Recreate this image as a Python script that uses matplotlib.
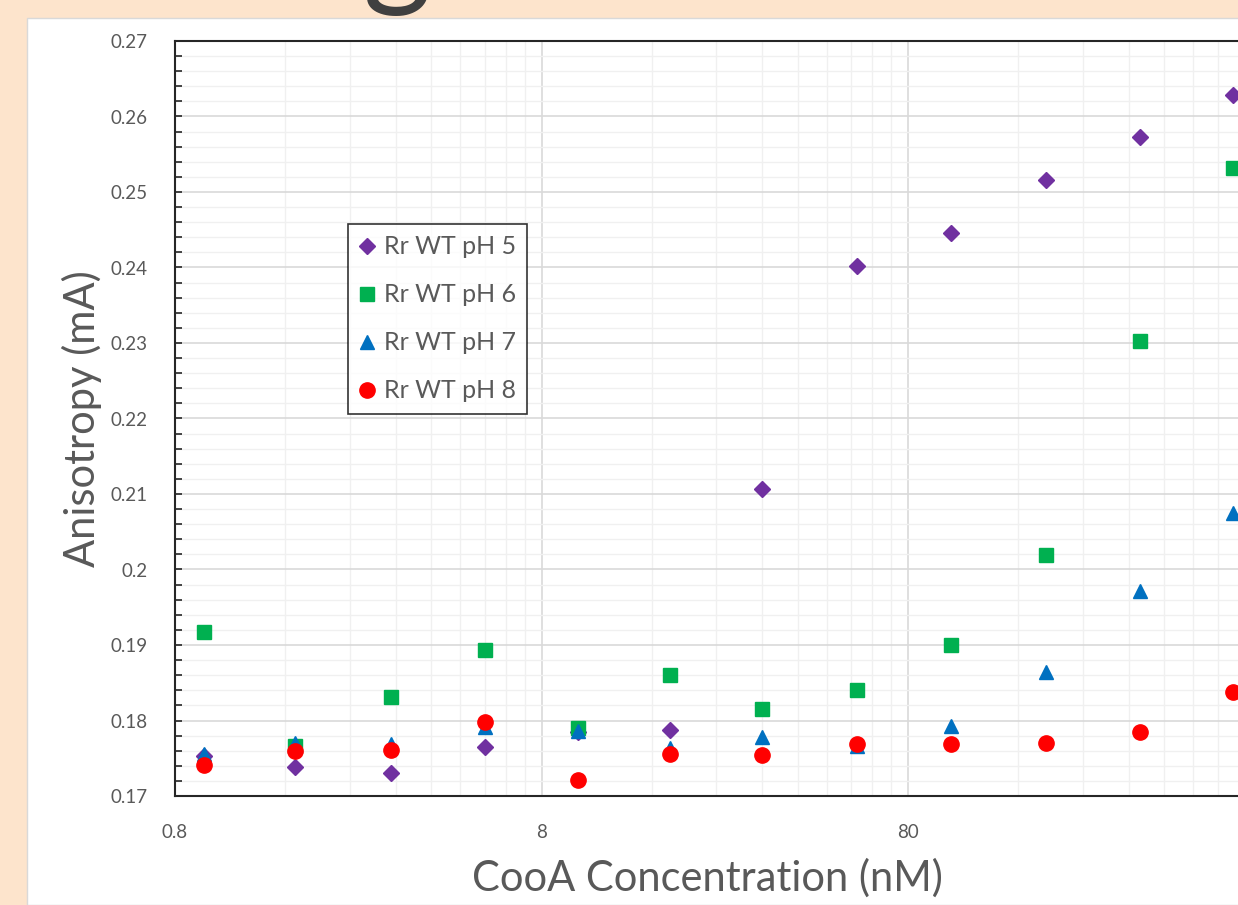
import matplotlib
matplotlib.use("Agg")
import matplotlib.pyplot as plt
from matplotlib.patches import Rectangle
from matplotlib.ticker import FixedLocator, FuncFormatter, MultipleLocator, NullFormatter

# CooA concentration (nM)
conc = [0.96, 1.70, 3.10, 5.61, 10.06, 17.9, 32.0, 58.1, 104.8, 190.4, 343.7, 616.0]

# anisotropy for each pH
ph5 = [0.1753, 0.1738, 0.1730, 0.1765, 0.1785, 0.1787, 0.2107, 0.2402, 0.2446, 0.2516, 0.2573, 0.2628]
ph6 = [0.1917, 0.1766, 0.1831, 0.1893, 0.1790, 0.1860, 0.1815, 0.1840, 0.1900, 0.2019, 0.2303, 0.2532]
ph7 = [0.1756, 0.1770, 0.1769, 0.1791, 0.1786, 0.1764, 0.1778, 0.1766, 0.1793, 0.1864, 0.1971, 0.2075]
ph8 = [0.1741, 0.1760, 0.1761, 0.1798, 0.1721, 0.1756, 0.1754, 0.1769, 0.1769, 0.1770, 0.1785, 0.1838]

labels = ["Rr WT pH 5", "Rr WT pH 6", "Rr WT pH 7", "Rr WT pH 8"]
x_ticks = [0.8, 8, 80]

plt.rcParams['font.family'] = ['Lato', 'DejaVu Sans']
grey = '#595959'

W, H = 1238, 905
fig = plt.figure(figsize=(W / 100, H / 100), dpi=100)
fig.patch.set_facecolor('#FDE4CC')

# white chart panel and the tail of the slide title
fig.patches.append(Rectangle((27 / W, 0), 1.0, 1 - 18 / H, transform=fig.transFigure,
                             facecolor='white', edgecolor='#D9D9D9', linewidth=1, zorder=-10))
fig.text(397 / W, 1 + 8 / H, "g", fontsize=95, color='#404040', ha='center', va='baseline')

left, right = 175, 1274.5
top, bottom = 41, 796
ax = fig.add_axes([left / W, 1 - bottom / H, (right - left) / W, (bottom - top) / H])
ax.set_zorder(5)
ax.patch.set_alpha(0)

series = [ph5, ph6, ph7, ph8]
markers = ['D', 's', '^', 'o']
colors = ['#7030A0', '#00B050', '#0070C0', '#FF0000']
sizes = [8, 10, 10.5, 11]
for ys, m, c, ms, lab in zip(series, markers, colors, sizes, labels):
    ax.plot(conc, ys, linestyle='none', marker=m, color=c, markersize=ms, label=lab, zorder=3)

ax.set_xscale('log')
ax.set_xlim(0.8, 800)
ax.set_ylim(0.17, 0.27)

ax.xaxis.set_major_locator(FixedLocator(x_ticks))
ax.xaxis.set_major_formatter(FuncFormatter(lambda v, p: '%g' % v))
minor_x = [0.8 * 10 ** d * k for d in range(3) for k in range(2, 10)]
ax.xaxis.set_minor_locator(FixedLocator(minor_x))
ax.xaxis.set_minor_formatter(NullFormatter())

ax.yaxis.set_major_locator(MultipleLocator(0.01))
ax.yaxis.set_minor_locator(MultipleLocator(0.002))
ax.yaxis.set_major_formatter(FuncFormatter(lambda v, p: '%g' % round(v, 3)))

ax.grid(which='major', color='#D9D9D9', linewidth=1.2, zorder=0)
ax.grid(which='minor', color='#F0F0F0', linewidth=1.0, zorder=0)
ax.set_axisbelow(True)

ax.tick_params(axis='x', which='both', length=0, labelsize=13.5, labelcolor=grey, pad=20)
ax.tick_params(axis='y', which='both', direction='in', length=5, width=1.2, color='#262626',
               labelsize=13.5, labelcolor=grey, pad=20)

for s in ['left', 'bottom', 'top']:
    ax.spines[s].set_color('#262626')
    ax.spines[s].set_linewidth(1.5)
ax.spines['right'].set_visible(False)

ax.set_xlabel("CooA Concentration (nM)", fontsize=30, color=grey, va='center')
ax.xaxis.set_label_coords((707 - left) / (right - left), (bottom - 878) / (bottom - top))
ax.set_ylabel("Anisotropy (mA)", fontsize=30, color=grey, labelpad=6)

leg = ax.legend(loc='upper left', bbox_to_anchor=((348 - left) / (right - left), (bottom - 224) / (bottom - top)),
                frameon=True, fancybox=False, fontsize=18, handletextpad=0.33, handlelength=0.65,
                labelspacing=1.0, borderpad=0.45, borderaxespad=0, labelcolor=grey)
leg.get_frame().set_edgecolor('black')
leg.get_frame().set_linewidth(1.2)

fig.savefig("out.png", dpi=100, facecolor=fig.get_facecolor())
